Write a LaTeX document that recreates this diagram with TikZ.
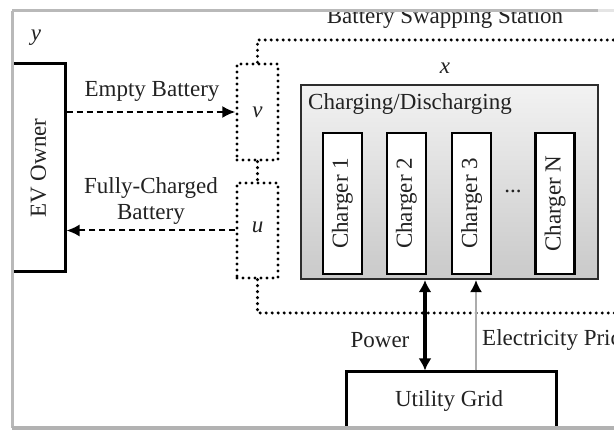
\documentclass[tikz,border=0pt]{standalone}
\usepackage{fontspec}
\setmainfont{Liberation Serif}
\usetikzlibrary{arrows.meta}
\definecolor{txt}{HTML}{222222}
\tikzset{
  lbl/.style={text=txt, inner sep=0pt, font=\fontsize{23}{27}\selectfont},
  var/.style={lbl, font=\fontsize{23}{27}\selectfont\itshape},
  solidbox/.style={draw=black, line width=3pt, fill=white, inner sep=0pt},
  dotbox/.style={draw=black, line width=3.4pt, dash pattern=on 0pt off 6pt, line cap=round, inner sep=0pt},
  dotline/.style={draw=black, line width=3.4pt, dash pattern=on 0pt off 6pt, line cap=round},
  dasharrow/.style={draw=black, line width=2pt, dash pattern=on 6.5pt off 3.5pt, -{Latex[length=13pt,width=12pt]}},
  powerarrow/.style={draw=black, line width=3.4pt, {Latex[length=12pt,width=13pt]}-{Latex[length=12pt,width=13pt]}},
  pricearrow/.style={draw=gray!65, line width=1.8pt, -{Latex[length=12pt,width=12pt,color=black]}},
  chbox/.style={draw=black, line width=2.6pt, fill=white, minimum width=39pt, minimum height=141pt, inner sep=0pt},
  frameline/.style={draw=gray!55, line width=3pt},
}
\begin{document}
\begin{tikzpicture}[x=1pt,y=-1pt]
\clip (0,0) rectangle (614,430);
\fill[white] (0,0) rectangle (614,430);

% Title of station (top partly hidden by frame)
\node[lbl, anchor=base] (bss) at (445,24) {Battery Swapping Station};

% EV Owner
\node[solidbox, minimum width=53pt, minimum height=208pt] (ev) at (38.5,168) {};
\node[lbl, rotate=90] (evt) at (ev.center) {EV Owner};

% v and u boxes
\node[dotbox, minimum width=41pt, minimum height=96pt] (v) at (257.5,112) {};
\node[var] (vt) at (v.center) {v};
\node[dotbox, minimum width=41pt, minimum height=95pt] (u) at (257.5,230.5) {};
\node[var] (ut) at ([yshift=3pt]u.center) {u};

% station boundary
\draw[dotline] (v.north) |- (640,40);
\draw[dotline] (v.south) -- (u.north);
\draw[dotline] (u.south) |- (640,313);

% variable labels
\node[var] (ylab) at (36,38) {y};
\node[var] (xlab) at (445,68) {x};

% Charging/Discharging
\node[draw=gray!35!black, line width=2.2pt, top color=gray!10, bottom color=gray!42,
      minimum width=297pt, minimum height=194pt, inner sep=0pt] (cd) at (449.5,182) {};
\node[lbl, anchor=base west] (cdt) at (308,110) {Charging/Discharging};

\node[chbox] (c1) at (342.5,203.5) {};
\node[lbl, rotate=90] (c1t) at (c1.center) {Charger 1};
\node[chbox] (c2) at (406.5,203.5) {};
\node[lbl, rotate=90] (c2t) at (c2.center) {Charger 2};
\node[chbox] (c3) at (471.5,203.5) {};
\node[lbl, rotate=90] (c3t) at (c3.center) {Charger 3};
\node[chbox] (cn) at (555,203.5) {};
\node[lbl, rotate=90] (cnt) at (cn.center) {Charger N};
\node[lbl] (dots) at (513,191) {...};

% Utility grid
\node[solidbox, minimum width=210pt, minimum height=70pt] (grid) at (451,407) {};
\node[lbl] (gridt) at (449,401) {Utility Grid};

% arrows between EV owner and station
\draw[dasharrow] (ev.east |- v.west) -- (v.west);
\draw[dasharrow] (u.west) -- (u.west -| ev.east);
\node[lbl] (eb) at (152,91) {Empty Battery};
\node[lbl, align=center] (fcb) at (151,201) {Fully-Charged\\[-1pt]Battery};

% power and price
\draw[powerarrow] ([xshift=-26pt]grid.north) -- ([xshift=-26pt]grid.north |- cd.south);
\draw[pricearrow] ([xshift=25pt]grid.north) -- ([xshift=25pt]grid.north |- cd.south);
\node[lbl] (pw) at (380,340) {Power};
\node[lbl, anchor=west] (ep) at (482,340) {Electricity Price};

% screenshot frame
\fill[white] (0,0) rectangle (614,10);
\fill[white] (0,0) rectangle (11,430);
\draw[frameline] (12,11) -- (598,11);
\draw[draw=gray!20, line width=3pt] (598,11) -- (614,11);
\draw[frameline] (12,11) -- (12,428);
\draw[draw=gray!60, line width=3.5pt] (12,428) -- (614,428);
\end{tikzpicture}
\end{document}
